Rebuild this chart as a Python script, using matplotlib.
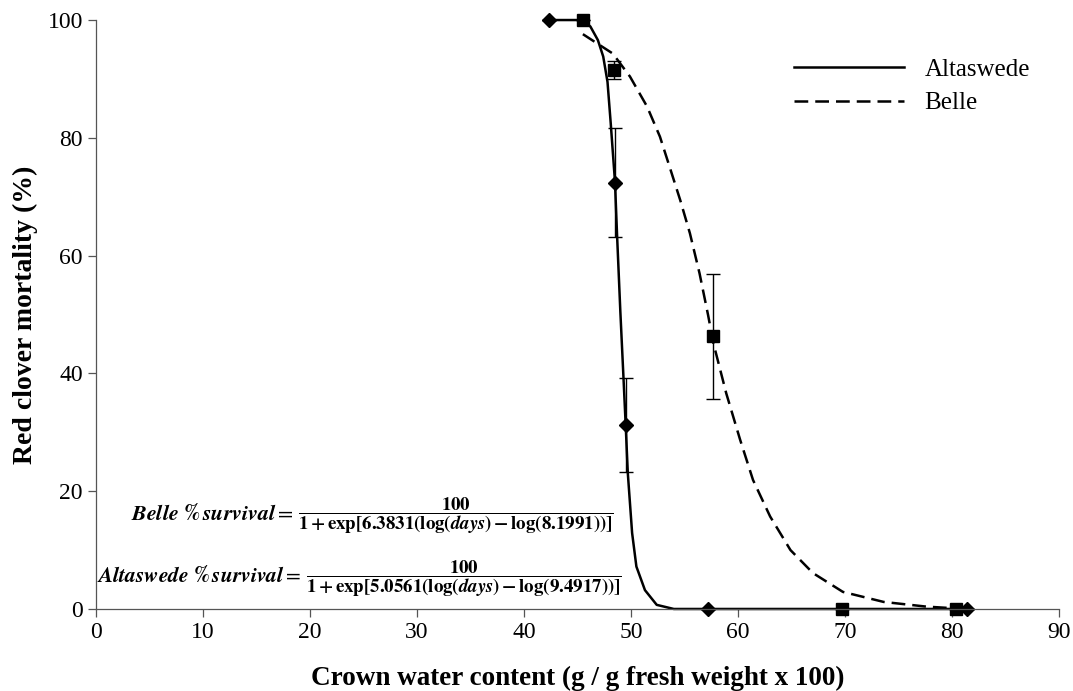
import matplotlib
matplotlib.use("Agg")
import matplotlib.pyplot as plt

plt.rcParams['font.family'] = ['Liberation Serif', 'DejaVu Serif']
plt.rcParams['mathtext.fontset'] = 'stix'

# Datos medidos (x = contenido de agua, y = mortalidad %)
alta_x = [42.3, 48.5, 49.5, 57.2, 81.4]
alta_y = [100, 72.4, 31.2, 0, 0]
alta_err = [0, 9.2, 8.0, 0, 0]

belle_x = [45.5, 48.4, 57.7, 69.7, 80.4]
belle_y = [100, 91.5, 46.3, 0, 0]
belle_err = [0, 1.5, 10.6, 0, 0]

# Curvas ajustadas
alta_curve_x = [42.3, 45.5, 46.2, 46.9, 47.4, 47.8, 48.1, 48.5, 48.7, 49.0,
                49.3, 49.5, 49.7, 50.1, 50.5, 51.3, 52.4, 54.0, 81.4]
alta_curve_y = [100, 100, 98.9, 96.6, 93.8, 89.5, 82.5, 72.5, 63.2, 50.5,
                39.0, 31.2, 23.0, 12.9, 7.2, 3.2, 0.7, 0, 0]

belle_curve_x = [45.5, 48.3, 49.9, 51.5, 52.7, 53.6, 54.6, 55.5, 56.4, 57.2,
                 57.7, 58.9, 60.2, 61.4, 63.0, 64.9, 67.0, 69.8, 73.6, 77.6, 80.4]
belle_curve_y = [97.6, 94.3, 90.4, 85.3, 80.2, 75.1, 69.4, 63.8, 57.0, 49.9,
                 45.1, 36.6, 28.7, 21.9, 15.7, 10.0, 6.1, 2.9, 1.2, 0.4, 0.1]

fig = plt.figure(figsize=(10.73, 6.91), dpi=100)
ax = fig.add_axes([0.0895, 0.1187, 0.8975, 0.8523])

ax.plot(alta_curve_x, alta_curve_y, color='black', lw=1.8, label='Altaswede',
        clip_on=False)
ax.plot(belle_curve_x, belle_curve_y, color='black', lw=1.8, ls=(0, (5.5, 2.8)),
        label='Belle', clip_on=False)

ax.errorbar(alta_x, alta_y, yerr=alta_err, fmt='D', color='black', ms=7,
            ecolor='black', elinewidth=1.0, capsize=5, capthick=1.0, clip_on=False)
ax.errorbar(belle_x, belle_y, yerr=belle_err, fmt='s', color='black', ms=8.5,
            ecolor='black', elinewidth=1.0, capsize=5, capthick=1.0, clip_on=False)

# Ecuaciones (etiqueta y fraccion por separado)
belle_lbl = r'$\mathbfit{Belle}\ \mathbf{\%}\,\mathbfit{survival} =$'
belle_frac = (r'$\dfrac{\mathbf{100}}{\mathbf{1+exp[6.3831(log(}\mathbfit{days}'
              r'\mathbf{)-log(8.1991))]}}$')
alta_lbl = r'$\mathbfit{Altaswede}\ \mathbf{\%}\,\mathbfit{survival} =$'
alta_frac = (r'$\dfrac{\mathbf{100}}{\mathbf{1+exp[5.0561(log(}\mathbfit{days}'
             r'\mathbf{)-log(9.4917))]}}$')

ax.text(18.45, 16.1, belle_lbl, fontsize=15.8, va='center', ha='right')
ax.text(18.9, 15.8, belle_frac, fontsize=13.6, va='center', ha='left')
ax.text(19.15, 5.5, alta_lbl, fontsize=15.5, va='center', ha='right')
ax.text(19.6, 5.2, alta_frac, fontsize=13.6, va='center', ha='left')

ax.set_xlim(0, 90)
ax.set_ylim(0, 100)
ax.set_xticks(range(0, 91, 10))
ax.set_yticks(range(0, 101, 20))

for s in ['top', 'right']:
    ax.spines[s].set_visible(False)
for s in ['left', 'bottom']:
    ax.spines[s].set_color('#555555')
    ax.spines[s].set_linewidth(0.9)
ax.tick_params(direction='out', length=6, width=0.9, color='#555555',
               labelsize=17)

ax.set_xlabel('Crown water content (g / g fresh weight x 100)', fontsize=19.5,
              fontweight='bold', labelpad=16)
ax.set_ylabel('Red clover mortality (%)', fontsize=20, fontweight='bold',
              labelpad=7)

leg = ax.legend(loc='upper right', frameon=False, fontsize=18,
                handlelength=4.4, handletextpad=0.8, borderaxespad=0.3,
                bbox_to_anchor=(0.988, 0.965), labelspacing=0.45)

fig.savefig('out.png', dpi=100)
